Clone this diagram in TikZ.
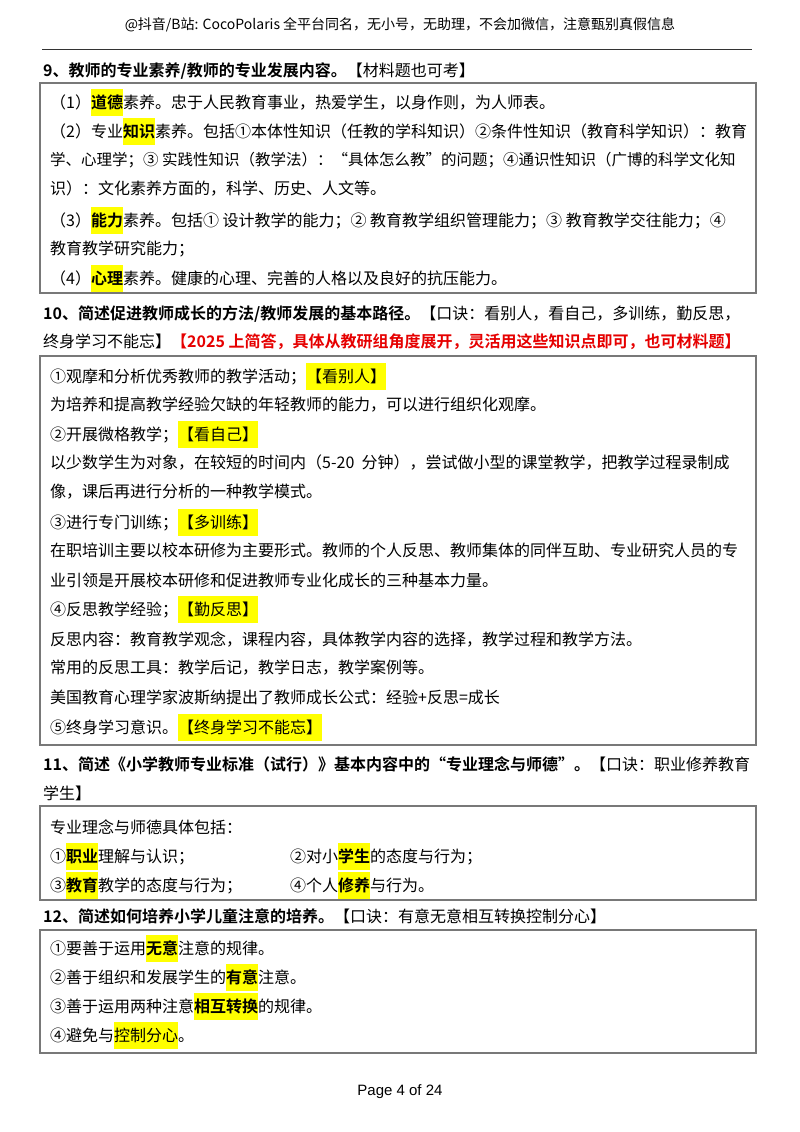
\documentclass[tikz,border=0pt]{standalone}
\usepackage{fontspec}
\setmainfont{Noto Sans CJK SC}[BoldFont={Noto Sans CJK SC Bold}]
\newfontfamily\pagefont{Liberation Sans}
\definecolor{hly}{RGB}{255,255,0}
\definecolor{redt}{RGB}{230,0,0}
\definecolor{boxc}{RGB}{120,120,120}
\newcommand{\hlt}[1]{{\setlength{\fboxsep}{0pt}\colorbox{hly}{\rule[-7pt]{0pt}{27pt}#1}}}
\begin{document}
\begin{tikzpicture}[x=1pt,y=-1pt,
  t/.style={anchor=west,inner sep=0,font=\fontsize{16}{18}\selectfont},
  bx/.style={draw=boxc,line width=2}]
\useasboundingbox (0,0) rectangle (800,1132);
\fill[white] (0,0) rectangle (800,1132);
% header
\node[inner sep=0,font=\fontsize{14}{16}\selectfont] (hdr) at (400,25) {@抖音/B站: CocoPolaris 全平台同名，无小号，无助理，不会加微信，注意甄别真假信息};
\draw[line width=1,black!80] (42,50) -- (752,50);
% Q9
\node[t] (q9) at (43,71) {\textbf{9、教师的专业素养/教师的专业发展内容。}【材料题也可考】};
\draw[bx] (40,83) rectangle (756,293);
\node[t] (a1) at (50,102) {（1）\hlt{\textbf{道德}}素养。忠于人民教育事业，热爱学生，以身作则，为人师表。};
\node[t] (a2) at (50,131) {（2）专业\hlt{\textbf{知识}}素养。包括①本体性知识（任教的学科知识）②条件性知识（教育科学知识）：教育};
\node[t,font=\fontsize{15.5}{18}\selectfont] (a3) at (50,160) {学、心理学；③ 实践性知识（教学法）：“具体怎么教”的问题；④通识性知识（广博的科学文化知};
\node[t] (a4) at (50,189) {识）：文化素养方面的，科学、历史、人文等。};
\node[t] (a5) at (50,220) {（3）\hlt{\textbf{能力}}素养。包括①\ 设计教学的能力；②\ 教育教学组织管理能力；③\ 教育教学交往能力；④};
\node[t] (a6) at (50,249) {教育教学研究能力；};
\node[t] (a7) at (50,278) {（4）\hlt{\textbf{心理}}素养。健康的心理、完善的人格以及良好的抗压能力。};
% Q10
\node[t] (q10a) at (43,314) {\textbf{10、简述促进教师成长的方法/教师发展的基本路径。}【口诀：看别人，看自己，多训练，勤反思，};
\node[t] (q10b) at (43,342) {终身学习不能忘】\textcolor{redt}{\textbf{【2025 上简答，具体从教研组角度展开，灵活用这些知识点即可，也可材料题】}}};
\draw[bx] (40,356) rectangle (756,745);
\node[t] (b1) at (50,376) {①观摩和分析优秀教师的教学活动；\hlt{【看别人】}};
\node[t] (b2) at (50,405) {为培养和提高教学经验欠缺的年轻教师的能力，可以进行组织化观摩。};
\node[t] (b3) at (50,434) {②开展微格教学；\hlt{【看自己】}};
\node[t] (b4) at (50,463) {以少数学生为对象，在较短的时间内（5-20\ \ 分钟），尝试做小型的课堂教学，把教学过程录制成};
\node[t] (b5) at (50,492) {像，课后再进行分析的一种教学模式。};
\node[t] (b6) at (50,522) {③进行专门训练；\hlt{【多训练】}};
\node[t] (b7) at (50,550) {在职培训主要以校本研修为主要形式。教师的个人反思、教师集体的同伴互助、专业研究人员的专};
\node[t] (b8) at (50,580) {业引领是开展校本研修和促进教师专业化成长的三种基本力量。};
\node[t] (b9) at (50,609) {④反思教学经验；\hlt{【勤反思】}};
\node[t] (b10) at (50,639) {反思内容：教育教学观念，课程内容，具体教学内容的选择，教学过程和教学方法。};
\node[t] (b11) at (50,668) {常用的反思工具：教学后记，教学日志，教学案例等。};
\node[t] (b12) at (50,697) {美国教育心理学家波斯纳提出了教师成长公式：经验+反思=成长};
\node[t] (b13) at (50,727) {⑤终身学习意识。\hlt{【终身学习不能忘】}};
% Q11
\node[t] (q11a) at (43,764) {\textbf{11、简述《小学教师专业标准（试行）》基本内容中的“专业理念与师德”。}【口诀：职业修养教育};
\node[t] (q11b) at (43,793) {学生】};
\draw[bx] (40,806) rectangle (756,900);
\node[t] (c1) at (50,827) {专业理念与师德具体包括：};
\node[t] (c2) at (50,856) {①\hlt{\textbf{职业}}理解与认识；};
\node[t] (c3) at (290,856) {②对小\hlt{\textbf{学生}}的态度与行为；};
\node[t] (c4) at (50,885) {③\hlt{\textbf{教育}}教学的态度与行为；};
\node[t] (c5) at (290,885) {④个人\hlt{\textbf{修养}}与行为。};
% Q12
\node[t] (q12) at (43,916) {\textbf{12、简述如何培养小学儿童注意的培养。}【口诀：有意无意相互转换控制分心】};
\draw[bx] (40,930) rectangle (756,1053);
\node[t] (d1) at (50,948) {①要善于运用\hlt{\textbf{无意}}注意的规律。};
\node[t] (d2) at (50,977) {②善于组织和发展学生的\hlt{\textbf{有意}}注意。};
\node[t] (d3) at (50,1006) {③善于运用两种注意\hlt{\textbf{相互转换}}的规律。};
\node[t] (d4) at (50,1035) {④避免与\hlt{控制分心}。};
% footer
\node[inner sep=0,font=\pagefont\fontsize{15}{18}\selectfont] (ftr) at (400,1092) {Page 4 of 24};
\end{tikzpicture}
\end{document}
